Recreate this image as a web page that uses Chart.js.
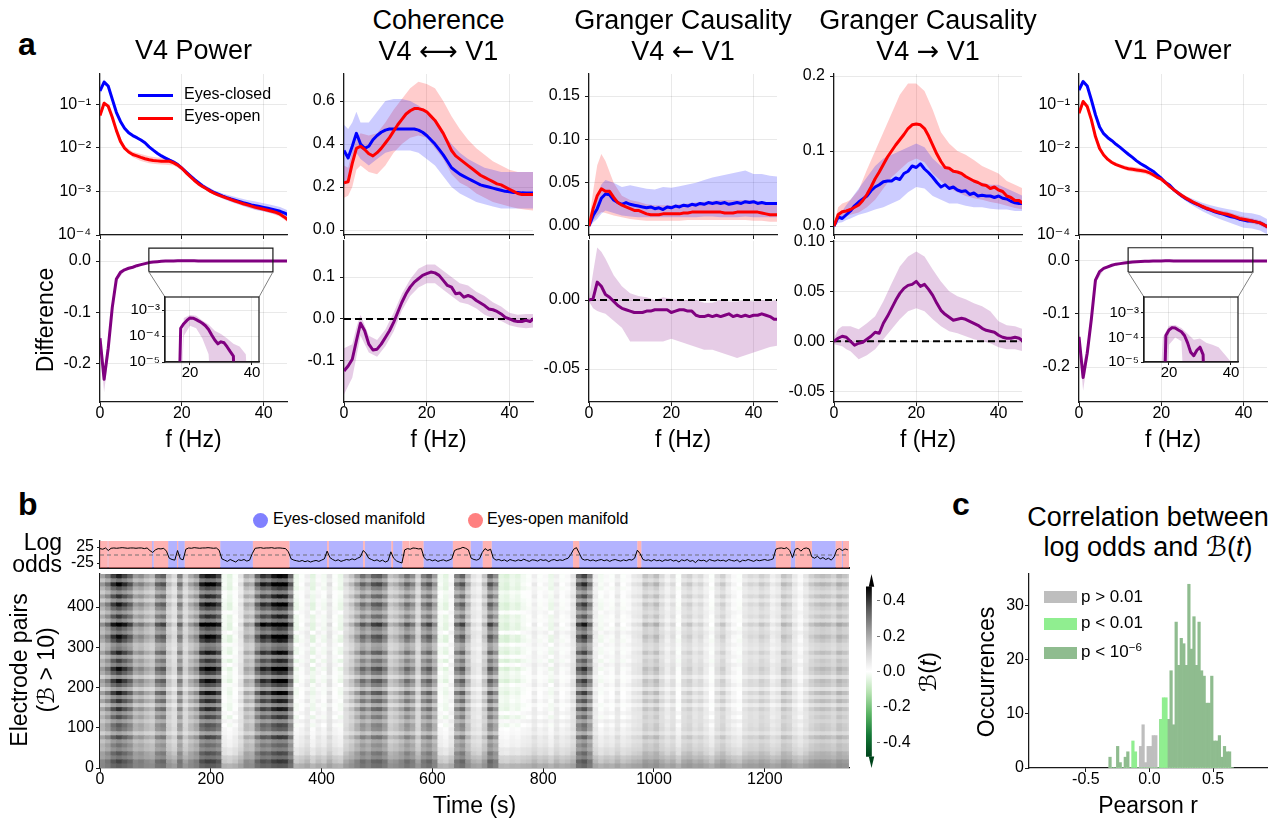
<!DOCTYPE html>
<html>
<head>
<meta charset="utf-8">
<script src="https://cdn.jsdelivr.net/npm/chart.js@4.4.1/dist/chart.umd.min.js"></script>
<style>
  body { margin: 0; background: #fff; font-family: 'Liberation Sans', Arial, 'DejaVu Sans', sans-serif; }
  #fig { position: relative; width: 1284px; height: 820px; overflow: hidden; background: #fff; }
  #fig canvas { position: absolute; }
  .t { position: absolute; white-space: nowrap; color: #000; line-height: 1; z-index: 5; }
  .mark { position: absolute; z-index: 5; }
  .arrow { font-family: 'DejaVu Sans', sans-serif; }
  sup { font-size: 0.68em; line-height: 0; vertical-align: 0.55em; }
</style>
</head>
<body>
<div id="fig"></div>
<script>
// ---------- spectra (1 Hz grid) ----------
const freqs = Array.from({ length: 47 }, (_, i) => i);
const bandFreqs = [0, 1, 2, 3, 4, 6, 8, 10, 12, 14, 16, 18, 20, 22, 24, 26, 28, 30, 32, 34, 36, 38, 40, 42, 44, 46];

// V4 power
const v4Closed = [0.2, 0.32, 0.26, 0.13, 0.065, 0.04, 0.028, 0.022, 0.019, 0.017,
  0.015, 0.013, 0.0105, 0.0088, 0.0075, 0.0065, 0.0058, 0.0052, 0.0047, 0.0041,
  0.0034, 0.0028, 0.0023, 0.0019, 0.0016, 0.00135, 0.00118, 0.00104, 0.00093, 0.00085,
  0.00078, 0.00072, 0.00067, 0.00063, 0.00059, 0.00055, 0.00052, 0.00049, 0.00047, 0.00045,
  0.00043, 0.00041, 0.00039, 0.00037, 0.00035, 0.00032, 0.00029];
const v4Open = [0.055, 0.105, 0.09, 0.05, 0.025, 0.014, 0.0098, 0.008, 0.007, 0.0065,
  0.006, 0.0056, 0.0053, 0.0051, 0.005, 0.0049, 0.0049, 0.0049, 0.0045, 0.004,
  0.0034, 0.0027, 0.0022, 0.0018, 0.0015, 0.0013, 0.00115, 0.001, 0.0009, 0.00082,
  0.00076, 0.0007, 0.00065, 0.0006, 0.00056, 0.00052, 0.00049, 0.00046, 0.00043, 0.00041,
  0.00039, 0.00037, 0.00035, 0.00033, 0.0003, 0.00026, 0.00022];
const v4ClosedSpread = [1.15, 1.15, 1.12, 1.1, 1.1, 1.08, 1.08, 1.08, 1.08, 1.08, 1.08, 1.1, 1.1,
  1.1, 1.1, 1.12, 1.12, 1.15, 1.18, 1.2, 1.22, 1.25, 1.25, 1.25, 1.25, 1.25];
const v4OpenSpread = [1.15, 1.12, 1.1, 1.1, 1.1, 1.1, 1.15, 1.2, 1.2, 1.2, 1.2, 1.15, 1.12,
  1.1, 1.1, 1.1, 1.1, 1.1, 1.1, 1.1, 1.12, 1.12, 1.12, 1.12, 1.15, 1.15];
const v4Diff = [-0.15, -0.23, -0.17, -0.09, -0.035, -0.022, -0.017, -0.014, -0.012, -0.009,
  -0.007, -0.005, -0.003, -0.002, -0.0012, -0.0006, -0.0001, 0.0002, 0.0003, 0.0004,
  0.0005, 0.00049, 0.00043, 0.00037, 0.00031, 0.00025, 0.00018, 0.00011, 0.00007, 0.00005,
  0.00006, 0.000055, 0.000038, 0.000025, 0.000017, -0.00001, -0.00002, -0.00003, -0.00002, -0.00003,
  -0.00004, -0.00003, -0.00004, -0.00005, -0.00004, -0.00005, -0.00006];
const v4DiffLo = [-0.16, -0.255, -0.19, -0.1, -0.04, -0.019, -0.014, -0.008, -0.004, -0.0016, -0.0008,
  0.0001, 0.00025, 0.0002, 0.00008, 0.00002, -0.00005, -0.00003, -0.0001, -0.0001, -0.0002,
  -0.0002, -0.0002, -0.0002, -0.0002, -0.0002];
const v4DiffHi = [-0.135, -0.21, -0.15, -0.075, -0.03, -0.015, -0.01, -0.006, -0.002, -0.0008, -0.0002,
  0.0005, 0.00065, 0.0006, 0.0004, 0.00028, 0.00016, 0.00012, 0.00008, 0.00005, 0.00004,
  0.00002, 0, 0, 0, 0];

// coherence
const cohClosed = [0.37, 0.335, 0.39, 0.45, 0.4, 0.38, 0.39, 0.42, 0.44, 0.455,
  0.465, 0.47, 0.47, 0.47, 0.47, 0.47, 0.47, 0.47, 0.465, 0.455,
  0.44, 0.42, 0.4, 0.375, 0.35, 0.32, 0.29, 0.275, 0.26, 0.25,
  0.24, 0.23, 0.22, 0.21, 0.205, 0.2, 0.195, 0.19, 0.185, 0.18,
  0.178, 0.175, 0.175, 0.173, 0.172, 0.172, 0.172];
const cohOpen = [0.22, 0.225, 0.31, 0.38, 0.39, 0.375, 0.355, 0.345, 0.36, 0.38,
  0.405, 0.43, 0.46, 0.49, 0.515, 0.54, 0.555, 0.565, 0.565, 0.56,
  0.55, 0.53, 0.51, 0.48, 0.45, 0.41, 0.37, 0.345, 0.33, 0.315,
  0.3, 0.285, 0.27, 0.255, 0.245, 0.235, 0.225, 0.215, 0.21, 0.2,
  0.19, 0.18, 0.17, 0.165, 0.165, 0.165, 0.165];
const cohClosedLo = [0.2, 0.25, 0.3, 0.36, 0.33, 0.3, 0.33, 0.36, 0.37, 0.37, 0.37, 0.36, 0.33,
  0.3, 0.25, 0.2, 0.17, 0.15, 0.13, 0.12, 0.11, 0.1, 0.1, 0.1, 0.1, 0.1];
const cohClosedHi = [0.49, 0.47, 0.5, 0.55, 0.5, 0.5, 0.55, 0.6, 0.61, 0.61, 0.6, 0.58, 0.55,
  0.5, 0.45, 0.4, 0.36, 0.33, 0.31, 0.29, 0.28, 0.27, 0.27, 0.27, 0.27, 0.27];
const cohOpenLo = [0.15, 0.16, 0.2, 0.28, 0.3, 0.27, 0.26, 0.3, 0.36, 0.4, 0.43, 0.44, 0.43,
  0.38, 0.33, 0.26, 0.22, 0.2, 0.17, 0.15, 0.13, 0.12, 0.11, 0.1, 0.095, 0.09];
const cohOpenHi = [0.3, 0.29, 0.37, 0.42, 0.45, 0.44, 0.45, 0.5, 0.56, 0.61, 0.66, 0.69, 0.68,
  0.66, 0.6, 0.53, 0.47, 0.42, 0.38, 0.35, 0.32, 0.3, 0.28, 0.27, 0.27, 0.27];
const cohDiff = [-0.124, -0.112, -0.096, -0.052, -0.01, -0.028, -0.06, -0.074, -0.072, -0.06,
  -0.044, -0.028, -0.008, 0.016, 0.04, 0.06, 0.076, 0.088, 0.096, 0.104,
  0.108, 0.112, 0.11, 0.104, 0.092, 0.08, 0.076, 0.06, 0.062, 0.052,
  0.056, 0.052, 0.044, 0.038, 0.032, 0.024, 0.022, 0.018, 0.012, 0.004,
  0.0, -0.004, -0.006, -0.006, -0.003, -0.006, 0.002];
const cohDiffLo = [-0.18, -0.16, -0.14, -0.09, -0.04, -0.08, -0.09, -0.065, -0.03, 0.02, 0.055, 0.075,
  0.085, 0.085, 0.07, 0.055, 0.04, 0.035, 0.025, 0.01, 0.002, -0.005, -0.015, -0.02, -0.022, -0.02];
const cohDiffHi = [-0.07, -0.065, -0.06, -0.02, 0.01, -0.04, -0.05, -0.025, 0.015, 0.06, 0.095, 0.12,
  0.13, 0.13, 0.115, 0.1, 0.085, 0.08, 0.065, 0.055, 0.04, 0.03, 0.015, 0.01, 0.012, 0.012];

// Granger causality V1 -> V4
const gcInClosed = [0, 0.012, 0.02, 0.032, 0.037, 0.036, 0.03, 0.027, 0.025, 0.027,
  0.025, 0.024, 0.023, 0.022, 0.021, 0.022, 0.02, 0.021, 0.019, 0.022,
  0.021, 0.023, 0.022, 0.024, 0.023, 0.025, 0.024, 0.026, 0.025, 0.027,
  0.026, 0.027, 0.026, 0.027, 0.025, 0.026, 0.027, 0.026, 0.028, 0.027,
  0.028, 0.026, 0.027, 0.026, 0.026, 0.026, 0.026];
const gcInOpen = [0, 0.02, 0.035, 0.043, 0.04, 0.04, 0.033, 0.027, 0.024, 0.022,
  0.02, 0.018, 0.018, 0.016, 0.014, 0.013, 0.013, 0.013, 0.014, 0.014,
  0.014, 0.014, 0.014, 0.015, 0.015, 0.016, 0.016, 0.016, 0.016, 0.016,
  0.016, 0.016, 0.016, 0.015, 0.015, 0.015, 0.016, 0.016, 0.016, 0.016,
  0.016, 0.016, 0.015, 0.014, 0.013, 0.013, 0.013];
const gcInClosedLo = [-0.002, 0.004, 0.008, 0.014, 0.018, 0.015, 0.012, 0.011, 0.01, 0.01, 0.01, 0.01, 0.01,
  0.01, 0.01, 0.01, 0.011, 0.011, 0.01, 0.01, 0.01, 0.011, 0.01, 0.01, 0.01, 0.01];
const gcInClosedHi = [0.004, 0.022, 0.035, 0.048, 0.053, 0.05, 0.045, 0.047, 0.045, 0.043, 0.042, 0.045, 0.044,
  0.046, 0.048, 0.05, 0.053, 0.056, 0.058, 0.06, 0.062, 0.064, 0.06, 0.06, 0.058, 0.057];
const gcInOpenLo = [-0.002, 0.006, 0.012, 0.016, 0.015, 0.012, 0.01, 0.008, 0.007, 0.006, 0.006, 0.006, 0.006,
  0.006, 0.007, 0.007, 0.007, 0.007, 0.007, 0.007, 0.007, 0.007, 0.006, 0.006, 0.005, 0.005];
const gcInOpenHi = [0.004, 0.04, 0.07, 0.083, 0.075, 0.05, 0.035, 0.03, 0.028, 0.025, 0.024, 0.024, 0.024,
  0.025, 0.026, 0.027, 0.028, 0.029, 0.03, 0.03, 0.03, 0.03, 0.03, 0.028, 0.026, 0.025];
const gcInDiff = [0, 0.001, 0.013, 0.01, 0.004, 0.002, -0.001, -0.004, -0.006, -0.007,
  -0.008, -0.009, -0.009, -0.009, -0.008, -0.008, -0.007, -0.007, -0.007, -0.007,
  -0.009, -0.008, -0.007, -0.007, -0.008, -0.008, -0.011, -0.012, -0.012, -0.011,
  -0.012, -0.011, -0.012, -0.011, -0.01, -0.012, -0.011, -0.012, -0.011, -0.012,
  -0.011, -0.011, -0.01, -0.011, -0.012, -0.014, -0.014];
const gcInDiffLo = [-0.001, -0.006, -0.008, -0.009, -0.01, -0.015, -0.02, -0.03, -0.03, -0.03, -0.03, -0.03,
  -0.028, -0.03, -0.032, -0.034, -0.036, -0.036, -0.038, -0.04, -0.042, -0.04, -0.038, -0.036, -0.034, -0.033];
const gcInDiffHi = [0.001, 0.02, 0.038, 0.035, 0.03, 0.018, 0.01, 0.005, 0.003, 0.002, 0.0, 0.002,
  0.001, 0.0, 0.0, 0.0, -0.002, -0.002, 0.0, -0.001, -0.001, 0.0, -0.001, 0.0, -0.001, 0.0];

// Granger causality V4 -> V1
const gcOutClosed = [0, 0.012, 0.01, 0.015, 0.02, 0.027, 0.032, 0.036, 0.04, 0.047,
  0.052, 0.055, 0.059, 0.06, 0.06, 0.064, 0.062, 0.07, 0.073, 0.08,
  0.078, 0.083, 0.076, 0.071, 0.065, 0.058, 0.052, 0.055, 0.05, 0.052,
  0.048, 0.046, 0.047, 0.042, 0.044, 0.04, 0.041, 0.04, 0.04, 0.038,
  0.04, 0.037, 0.036, 0.033, 0.031, 0.03, 0.03];
const gcOutOpen = [0, 0.015, 0.019, 0.02, 0.022, 0.025, 0.028, 0.034, 0.042, 0.052,
  0.063, 0.072, 0.082, 0.092, 0.1, 0.108, 0.115, 0.122, 0.13, 0.135,
  0.136, 0.135, 0.13, 0.12, 0.108, 0.096, 0.086, 0.078, 0.077, 0.073,
  0.072, 0.07, 0.066, 0.063, 0.06, 0.058, 0.055, 0.054, 0.05, 0.052,
  0.048, 0.046, 0.04, 0.038, 0.034, 0.034, 0.03];
const gcOutClosedLo = [-0.002, 0.004, 0.005, 0.008, 0.01, 0.015, 0.018, 0.022, 0.025, 0.03, 0.035, 0.045,
  0.052, 0.05, 0.04, 0.035, 0.03, 0.03, 0.027, 0.025, 0.025, 0.023, 0.022, 0.022, 0.02, 0.02];
const gcOutClosedHi = [0.002, 0.018, 0.02, 0.028, 0.035, 0.05, 0.065, 0.08, 0.09, 0.095, 0.1, 0.105,
  0.11, 0.105, 0.09, 0.08, 0.075, 0.07, 0.065, 0.06, 0.058, 0.055, 0.055, 0.05, 0.045, 0.04];
const gcOutOpenLo = [-0.002, 0.008, 0.012, 0.013, 0.015, 0.018, 0.025, 0.035, 0.05, 0.065, 0.075, 0.085,
  0.09, 0.085, 0.07, 0.06, 0.05, 0.045, 0.04, 0.037, 0.035, 0.032, 0.03, 0.027, 0.024, 0.022];
const gcOutOpenHi = [0.002, 0.025, 0.03, 0.032, 0.035, 0.048, 0.075, 0.1, 0.125, 0.15, 0.175, 0.19,
  0.19, 0.18, 0.155, 0.125, 0.11, 0.1, 0.095, 0.088, 0.08, 0.075, 0.07, 0.06, 0.055, 0.05];
const gcOutDiff = [0, 0.003, 0.005, 0.004, 0.0, -0.004, -0.002, -0.001, 0.002, 0.005,
  0.009, 0.008, 0.018, 0.025, 0.033, 0.041, 0.048, 0.053, 0.056, 0.057,
  0.06, 0.055, 0.057, 0.052, 0.046, 0.038, 0.031, 0.027, 0.024, 0.021,
  0.022, 0.023, 0.022, 0.02, 0.018, 0.016, 0.013, 0.011, 0.01, 0.009,
  0.006, 0.004, 0.003, 0.003, 0.004, 0.003, 0.0];
const gcOutDiffLo = [-0.003, -0.004, -0.005, -0.008, -0.01, -0.018, -0.014, -0.008, 0.002, 0.012, 0.022, 0.03,
  0.033, 0.03, 0.022, 0.015, 0.01, 0.008, 0.005, 0.002, 0.0, -0.002, -0.006, -0.008, -0.008, -0.01];
const gcOutDiffHi = [0.003, 0.012, 0.015, 0.015, 0.015, 0.012, 0.018, 0.025, 0.04, 0.058, 0.075, 0.085,
  0.09, 0.085, 0.072, 0.06, 0.05, 0.045, 0.042, 0.038, 0.035, 0.03, 0.02, 0.016, 0.015, 0.012];

// V1 power
const v1Closed = [0.21, 0.33, 0.26, 0.126, 0.057, 0.03, 0.021, 0.017, 0.0145, 0.012,
  0.0102, 0.0085, 0.0071, 0.006, 0.005, 0.0043, 0.0038, 0.0033, 0.0029, 0.0024,
  0.002, 0.0016, 0.0014, 0.0011, 0.00093, 0.00078, 0.00068, 0.0006, 0.00054, 0.00049,
  0.00044, 0.0004, 0.00037, 0.00034, 0.00032, 0.0003, 0.00028, 0.00026, 0.00025, 0.00023,
  0.00022, 0.00021, 0.00021, 0.0002, 0.00019, 0.00017, 0.00015];
const v1Open = [0.062, 0.115, 0.088, 0.044, 0.018, 0.0096, 0.0068, 0.0054, 0.0046, 0.0041,
  0.0038, 0.0035, 0.0033, 0.0032, 0.0031, 0.003, 0.0029, 0.0027, 0.0024, 0.0021,
  0.0019, 0.0016, 0.0013, 0.0011, 0.00093, 0.0008, 0.0007, 0.00062, 0.00055, 0.0005,
  0.00045, 0.00041, 0.00038, 0.00035, 0.00033, 0.00031, 0.0003, 0.00028, 0.00026, 0.00024,
  0.00023, 0.00022, 0.00021, 0.0002, 0.00019, 0.00017, 0.00015];
const v1ClosedSpread = [1.12, 1.12, 1.1, 1.1, 1.1, 1.08, 1.08, 1.08, 1.08, 1.08, 1.08, 1.1, 1.1,
  1.1, 1.12, 1.15, 1.2, 1.25, 1.3, 1.35, 1.4, 1.45, 1.5, 1.5, 1.5, 1.5];
const v1OpenSpread = [1.12, 1.12, 1.1, 1.1, 1.1, 1.1, 1.1, 1.1, 1.12, 1.15, 1.15, 1.12, 1.1,
  1.1, 1.1, 1.1, 1.1, 1.12, 1.12, 1.12, 1.15, 1.15, 1.15, 1.15, 1.15, 1.15];
const v1Diff = [-0.143, -0.22, -0.174, -0.11, -0.036, -0.02, -0.014, -0.011, -0.008, -0.006,
  -0.005, -0.004, -0.003, -0.002, -0.0015, -0.001, -0.0006, -0.0003, -0.0001, 0.00012,
  0.0002, 0.00025, 0.00024, 0.0002, 0.00017, 0.00012, 0.00006, 0.000025, 0.000018, 0.00003,
  0.00004, 0.00002, -0.00001, -0.00002, -0.00001, -0.00002, -0.00003, -0.00002, -0.00003, -0.00004,
  -0.00003, -0.00004, -0.00005, -0.00004, -0.00005, -0.00006, -0.00006];
const v1DiffLo = [-0.155, -0.245, -0.19, -0.125, -0.042, -0.017, -0.01, -0.006, -0.0035, -0.002, -0.0009,
  -0.0004, 0.00005, 0.0001, 0.00007, -0.00001, -0.00002, 0.00001, -0.00004, -0.00004, -0.00005,
  -0.00005, -0.00006, -0.00007, -0.00007, -0.00008];
const v1DiffHi = [-0.13, -0.195, -0.158, -0.095, -0.03, -0.011, -0.006, -0.004, -0.0025, -0.001, -0.0003,
  0.0001, 0.0003, 0.00032, 0.00024, 0.00014, 0.00008, 0.00009, 0.00006, 0.00005, 0.00004,
  0.00002, 0.00001, 0, -0.00001, -0.00002];

// ---------- manifold log odds (5 s steps) ----------
const oddsStep = 5;
const logOdds = [
  20, 18, 22, 14, 21, 22, 21, 22, 23, 22,
  21, 22, 22, 21, 22, 22, 20, 22, 14, 8,
  16, 20, 19, 21, 12, -10, -14, -16, 14, -12,
  -15, 18, 22, 21, 23, 22, 21, 22, 22, 23,
  22, 21, 22, 15, -12, -16, -20, -14, -18, -22,
  -15, -17, -14, -19, -16, 5, 21, 22, 23, 21,
  22, 22, 23, 21, 22, 22, 21, 20, 10, -12,
  -16, -18, -20, -17, -21, -18, -22, -19, -17, -20,
  -16, -12, 12, -8, -14, -18, -15, -20, -17, -14,
  -16, -12, -15, -10, -6, 14, 6, -10, -14, -18,
  -15, -20, -16, -22, -18, 10, -10, -18, -22, -25,
  16, 20, 18, 22, 21, 19, 20, -8, -16, -14,
  -18, -15, -20, -17, -15, -19, -16, -12, 14, 18,
  20, 24, 21, 16, -10, -14, -16, -12, 8, 20,
  14, 18, -10, -16, -14, -18, -15, -20, -14, -17,
  -19, -15, -18, -13, -17, -20, -15, -16, -19, -14,
  -17, -15, -21, -16, -14, -18, -15, -17, -13, -10,
  2, 18, 23, 6, -12, -16, -14, -18, -15, -19,
  -16, -14, -18, -15, -20, -16, -14, -17, -19, -15,
  -18, -14, -16, -10, 15, 4, -14, -17, -15, -19,
  -14, -18, -16, -20, -15, -17, -14, -19, -16, -22,
  -15, -18, -14, -20, -17, -24, -15, -18, -16, -21,
  -14, -17, -19, -15, -18, -16, -20, -14, -17, -19,
  -15, -22, -16, -18, -14, -17, -20, -15, -18, -16,
  -14, -17, -15, -12, 18, 21, 22, 20, 23, 14,
  -8, 18, 21, 12, 20, 22, 19, -6, -10, -4,
  -12, -8, -14, -10, -16, -6, 16, 20, 14, 19,
  16];
// manifold assignment: segment start (s) and state
const segStart = [0, 14, 15, 94, 97, 123, 139, 141, 153, 217, 276, 342, 410, 413, 475, 478, 526, 529,
  546, 558, 559, 584, 637, 669, 691, 707, 854, 865, 970, 977, 1220, 1247, 1255, 1285, 1328, 1339, 1341];
const segState = ['open', 'closed', 'open', 'closed', 'open', 'closed', 'open', 'closed', 'open', 'closed',
  'open', 'closed', 'open', 'closed', 'open', 'closed', 'open', 'closed', 'open', 'closed', 'open',
  'closed', 'open', 'closed', 'open', 'closed', 'open', 'closed', 'open', 'closed', 'open', 'closed',
  'open', 'closed', 'open', 'closed', 'open'];
const T_MAX = 1352;

// ---------- electrode-pair coefficients B(t) ----------
const heatBinSec = 10, heatRowStep = 10;
const colLevel = [
  0.15, 0.2, 0.28, 0.32, 0.28, 0.24, 0.16, 0.18, 0.14, 0.12,
  0.22, 0.24, 0.1, 0.06, 0.2, 0.08, 0.14, 0.18, 0.3, 0.33,
  0.32, 0.28, -0.03, -0.05, -0.02, 0.04, 0.14, 0.12, 0.24, 0.3,
  0.28, 0.33, 0.35, 0.34, 0.24, -0.04, -0.02, 0.02, -0.05, 0.0,
  -0.03, 0.04, -0.02, -0.04, 0.06, 0.1, 0.16, 0.22, 0.18, 0.24,
  0.25, 0.2, 0.1, 0.12, 0.16, 0.22, 0.18, 0.08, 0.2, 0.24,
  0.16, -0.03, -0.05, 0.0, 0.2, 0.24, 0.12, 0.04, 0.02, 0.1,
  0.24, 0.18, -0.05, -0.06, -0.04, -0.05, -0.03, -0.02, 0.02, -0.02,
  0.0, -0.04, 0.02, -0.02, 0.0, 0.04, 0.24, 0.28, 0.2, 0.02,
  -0.03, 0.0, -0.02, 0.03, -0.02, 0.0, 0.03, 0.04, 0.1, 0.08,
  0.11, 0.06, 0.02, 0.05, -0.02, 0.06, 0.08, 0.04, 0.06, 0.02,
  -0.02, 0.05, 0.08, 0.03, 0.0, -0.02, 0.04, 0.06, 0.05, 0.08,
  0.06, 0.02, 0.04, 0.1, 0.08, 0.03, 0.0, 0.04, 0.08, 0.1,
  0.11, 0.1, 0.08, 0.12, 0.1, 0.08];
const rowGain = [0.45, 0.7, 0.5, 0.8, 0.55, 0.75, 0.6, 0.95, 0.55, 0.85,
  1.0, 0.6, 1.1, 0.7, 1.2, 0.75, 1.15, 0.8, 1.3, 0.7,
  1.0, 1.35, 0.75, 1.1, 1.4, 0.8, 1.2, 0.7, 1.3, 0.9,
  0.75, 1.25, 1.4, 0.8, 1.1, 1.5, 0.85, 1.2, 0.7, 1.1,
  1.35, 0.8, 1.2, 0.75, 1.1, 1.4, 0.9, 1.3, 1.5];
const rowBase = [0.2, 0.16, 0.14, 0.1, 0.09, 0.07, 0.06, 0.07, 0.04, 0.05,
  0.03, 0.05, 0.02, 0.04, 0.03, 0.01, 0.04, 0.02, 0.03, 0.01,
  0.04, 0.02, 0.01, 0.03, 0.02, 0.04, 0.01, 0.03, 0.02, 0.01,
  0.03, 0.01, 0.02, 0.04, 0.01, 0.03, 0.01, 0.02, 0.03, 0.01,
  0.02, 0.01, 0.03, 0.02, 0.01, 0.03, 0.01, 0.02, 0.01];

// ---------- correlation histogram ----------
const HIST_FIRST = -0.31, HIST_BIN = 0.02;
const histHigh = [2, 0, 0, 4, 1, 0, 2, 3, 0, 0, 0, 0, 0, 0, 0, 0, 0, 0, 0, 0,
  9, 9, 9, 9, 18, 8, 27, 19, 24, 23, 19, 34, 22, 28, 19, 27, 18, 17, 12, 12,
  17, 5, 5, 6, 2, 4, 3, 3, 0];
const histMid = [0, 0, 0, 0, 0, 0, 0, 0, 0, 5, 3, 0, 0, 0, 0, 0, 0, 0, 0, 0,
  9, 13, 13, 0, 0, 0, 0, 0, 0, 0, 0, 0, 0, 0, 0, 0, 0, 0, 0, 0,
  0, 0, 0, 0, 0, 0, 0, 0, 0];
const histLow = [0, 0, 0, 0, 0, 0, 0, 0, 0, 0, 0, 0, 4, 8, 1, 4, 4, 6, 6, 0,
  0, 0, 0, 0, 0, 0, 0, 0, 0, 0, 0, 0, 0, 0, 0, 0, 0, 0, 0, 0,
  0, 0, 0, 0, 0, 0, 0, 0, 0];

// ---------- styling ----------
const INK = '#1a1a1a';
const GRID = 'rgba(0,0,0,0.085)';
const BLUE = '#0000ff', RED = '#ff0000', PURPLE = '#800080';
const BLUE_A = 'rgba(0,0,255,0.2)', RED_A = 'rgba(255,0,0,0.2)', PURPLE_A = 'rgba(128,0,128,0.2)';
const cmapStops = [
  [-0.48, [0, 68, 27]], [-0.36, [20, 120, 55]], [-0.24, [90, 180, 100]], [-0.12, [180, 225, 175]],
  [0, [255, 255, 255]], [0.12, [210, 210, 210]], [0.24, [150, 150, 150]], [0.36, [85, 85, 85]],
  [0.48, [0, 0, 0]]];

Chart.defaults.font.family = "'Liberation Sans', Arial, 'DejaVu Sans', sans-serif";
Chart.defaults.font.size = 16;
Chart.defaults.color = '#000';
Chart.defaults.animation = false;
Chart.defaults.responsive = false;
Chart.defaults.events = [];
Chart.defaults.plugins.legend.display = false;
Chart.defaults.plugins.tooltip.enabled = false;

const fig = document.getElementById('fig');
const SUP = { '-': '\u207B', '0': '\u2070', '1': '\u00B9', '2': '\u00B2', '3': '\u00B3', '4': '\u2074', '5': '\u2075', '6': '\u2076' };
const pow10 = v => '10' + String(Math.round(Math.log10(v))).split('').map(c => SUP[c]).join('');
const fix = n => v => v.toFixed(n);

function cmap(v) {
  const s = cmapStops;
  if (v <= s[0][0]) return `rgb(${s[0][1].join(',')})`;
  for (let i = 1; i < s.length; i++) {
    if (v <= s[i][0]) {
      const f = (v - s[i - 1][0]) / (s[i][0] - s[i - 1][0]);
      const c = s[i][1].map((ch, j) => Math.round(s[i - 1][1][j] + f * (ch - s[i - 1][1][j])));
      return `rgb(${c.join(',')})`;
    }
  }
  return `rgb(${s[s.length - 1][1].join(',')})`;
}

function makeCanvas(box, m, z) {
  const c = document.createElement('canvas');
  const w = box.r - box.l + m.l + m.r, h = box.b - box.t + m.t + m.b;
  c.width = w; c.height = h;
  c.style.left = (box.l - m.l) + 'px';
  c.style.top = (box.t - m.t) + 'px';
  c.style.width = w + 'px'; c.style.height = h + 'px';
  if (z) c.style.zIndex = z;
  fig.appendChild(c);
  return c;
}

function axis(o) {
  const horiz = o.pos === 'bottom';
  return {
    type: o.type || 'linear', position: o.pos, min: o.min, max: o.max, offset: false,
    afterBuildTicks: s => { s.ticks = (o.ticks || []).map(v => ({ value: v })); },
    afterFit: s => {
      if (horiz) { s.height = o.size; s.paddingLeft = 0; s.paddingRight = 0; }
      else { s.width = o.size; s.paddingTop = 0; s.paddingBottom = 0; }
    },
    grid: { offset: false, drawOnChartArea: !!o.grid, color: GRID, lineWidth: 1, drawTicks: true,
      tickLength: o.tickLength ?? 4, tickColor: o.tickColor || INK, tickWidth: 1 },
    border: { display: o.border !== false, color: INK, width: o.borderWidth || 1.25 },
    ticks: { display: o.labels !== false, padding: o.pad ?? 4, autoSkip: false, maxRotation: 0, minRotation: 0,
      font: { size: o.font || 16, lineHeight: 1 }, callback: o.fmt || (v => String(v)) },
  };
}

function txt(s, x, y, size, o = {}) {
  const d = document.createElement('div');
  d.className = 't';
  d.innerHTML = s;
  d.style.fontSize = size + 'px';
  if (o.bold) d.style.fontWeight = 'bold';
  if (o.rot) {
    // x is the baseline position of the rotated text, y its centre
    d.style.left = (x - 0.3465 * size) + 'px';
    d.style.top = y + 'px';
    d.style.transform = 'translate(-50%,-50%) rotate(-90deg)';
  } else {
    d.style.left = x + 'px';
    d.style.top = (y - 0.8465 * size) + 'px';
    const a = o.anchor || 'center';
    if (a === 'center') d.style.transform = 'translateX(-50%)';
    if (a === 'right') d.style.transform = 'translateX(-100%)';
  }
  fig.appendChild(d);
}

function swatch(l, t, w, h, color, round) {
  const d = document.createElement('div');
  d.className = 'mark';
  Object.assign(d.style, { left: l + 'px', top: t + 'px', width: w + 'px', height: h + 'px', background: color });
  if (round) d.style.borderRadius = '50%';
  fig.appendChild(d);
}

// ---------- dataset helpers ----------
const pts = ys => freqs.map((f, i) => ({ x: f, y: ys[i] }));
const bpts = ys => bandFreqs.map((f, k) => ({ x: f, y: ys[k] }));
function curve(ys, color, order) {
  return { type: 'line', data: pts(ys), borderColor: color, borderWidth: 3, pointRadius: 0,
    fill: false, order, borderJoinStyle: 'round' };
}
function shade(lo, hi, color) {
  return [
    { type: 'line', data: bpts(lo), borderWidth: 0, pointRadius: 0, fill: false, order: 5 },
    { type: 'line', data: bpts(hi), borderWidth: 0, pointRadius: 0, fill: '-1', backgroundColor: color, order: 5 },
  ];
}
function ratioShade(mean, spread, color) {
  return shade(bandFreqs.map((f, k) => mean[f] / spread[k]), bandFreqs.map((f, k) => mean[f] * spread[k]), color);
}
const X_MAX = 45.7;
function zeroLine() {
  return { type: 'line', data: [{ x: 0, y: 0 }, { x: X_MAX, y: 0 }], borderColor: '#000', borderWidth: 2,
    borderDash: [7, 4], pointRadius: 0, fill: false, order: 2 };
}

// ---------- panel a ----------
const COL_X = [[100, 287], [344, 533], [589, 777], [834, 1022], [1079, 1267]];
const M_TOP = { l: 62, t: 12, r: 10, b: 10 };
const M_BOT = { l: 62, t: 12, r: 10, b: 26 };
const INSET_X = [11.94, 42.26];
const ZOOM_Y = [-0.021, 0.025];
const M_INSET = { l: 46, t: 6, r: 6, b: 22 };
const CLIP_FLOOR = 1e-9;

function specChart(col, top, m, yOpt, datasets, plugins, z) {
  const box = { l: COL_X[col][0], r: COL_X[col][1], t: top ? 74 : 241, b: top ? 235 : 402 };
  return new Chart(makeCanvas(box, m, z), {
    type: 'line',
    data: { datasets },
    options: {
      layout: { padding: { left: 0, top: m.t, right: m.r, bottom: 0 } },
      scales: {
        x: axis({ pos: 'bottom', min: 0, max: X_MAX, ticks: [0, 20, 40], size: m.b, labels: !top, grid: true, pad: 0 }),
        y: axis(Object.assign({ pos: 'left', size: m.l, grid: true, pad: 5 }, yOpt)),
      },
    },
    plugins: plugins || [],
  });
}

const whiteArea = {
  id: 'whiteArea',
  beforeDraw(chart) {
    const a = chart.chartArea;
    chart.ctx.save(); chart.ctx.fillStyle = '#fff';
    chart.ctx.fillRect(a.left, a.top, a.right - a.left, a.bottom - a.top);
    chart.ctx.restore();
  },
};
const frame = {
  id: 'frame',
  afterDraw(chart) {
    const a = chart.chartArea, ctx = chart.ctx;
    ctx.save(); ctx.strokeStyle = INK; ctx.lineWidth = 1.2;
    ctx.strokeRect(a.left, a.top, a.right - a.left, a.bottom - a.top);
    ctx.restore();
  },
};

function insetChart(box, diff, lo, hi, yMax) {
  const floor = v => (v > 0 ? v : CLIP_FLOOR);
  return new Chart(makeCanvas(box, M_INSET, 3), {
    type: 'line',
    data: { datasets: [curve(diff.map(floor), PURPLE, 0), ...shade(lo.map(floor), hi.map(floor), PURPLE_A)] },
    options: {
      layout: { padding: { left: 0, top: M_INSET.t, right: M_INSET.r, bottom: 0 } },
      scales: {
        x: axis({ pos: 'bottom', min: INSET_X[0], max: INSET_X[1], ticks: [20, 40], size: M_INSET.b, grid: true, pad: 0, font: 15, tickLength: 3 }),
        y: axis({ pos: 'left', type: 'logarithmic', min: 1e-5, max: yMax, ticks: [1e-5, 1e-4, 1e-3], fmt: pow10,
          size: M_INSET.l, grid: true, pad: 2, font: 15, tickLength: 3 }),
      },
    },
    plugins: [whiteArea, frame],
  });
}

function zoomBox() {
  return { type: 'line', borderColor: INK, borderWidth: 1.2, pointRadius: 0, fill: false, order: -1,
    data: [{ x: INSET_X[0], y: ZOOM_Y[0] }, { x: INSET_X[0], y: ZOOM_Y[1] }, { x: INSET_X[1], y: ZOOM_Y[1] },
      { x: INSET_X[1], y: ZOOM_Y[0] }, { x: INSET_X[0], y: ZOOM_Y[0] }] };
}
function zoomLinks(inset) {
  return {
    id: 'zoomLinks',
    afterDatasetsDraw(chart) {
      const { ctx } = chart, x = chart.scales.x, y = chart.scales.y, a = inset.chartArea;
      const dx = parseFloat(inset.canvas.style.left) - parseFloat(chart.canvas.style.left);
      const dy = parseFloat(inset.canvas.style.top) - parseFloat(chart.canvas.style.top);
      ctx.save(); ctx.strokeStyle = '#808080'; ctx.lineWidth = 1;
      ctx.beginPath();
      ctx.moveTo(x.getPixelForValue(INSET_X[0]), y.getPixelForValue(ZOOM_Y[0]));
      ctx.lineTo(a.left + dx, a.top + dy);
      ctx.moveTo(x.getPixelForValue(INSET_X[1]), y.getPixelForValue(ZOOM_Y[0]));
      ctx.lineTo(a.right + dx, a.top + dy);
      ctx.stroke(); ctx.restore();
    },
  };
}

const logPower = { type: 'logarithmic', min: 1e-4, max: 0.49, ticks: [1e-4, 1e-3, 1e-2, 1e-1], fmt: pow10 };

// V4 power
specChart(0, true, M_TOP, logPower, [curve(v4Open, RED, 0), curve(v4Closed, BLUE, 1),
  ...ratioShade(v4Closed, v4ClosedSpread, BLUE_A), ...ratioShade(v4Open, v4OpenSpread, RED_A)]);
const v4Inset = insetChart({ l: 165, t: 297, r: 259, b: 362 }, v4Diff, v4DiffLo, v4DiffHi, 3.2e-3);
specChart(0, false, M_BOT, { min: -0.274, max: 0.039, ticks: [-0.2, -0.1, 0], fmt: fix(1) },
  [curve(v4Diff, PURPLE, 0), ...shade(v4DiffLo, v4DiffHi, PURPLE_A), zoomBox()], [zoomLinks(v4Inset)]);

// coherence
specChart(1, true, M_TOP, { min: -0.023, max: 0.726, ticks: [0, 0.2, 0.4, 0.6], fmt: fix(1) },
  [curve(cohOpen, RED, 0), curve(cohClosed, BLUE, 1),
    ...shade(cohClosedLo, cohClosedHi, BLUE_A), ...shade(cohOpenLo, cohOpenHi, RED_A)]);
specChart(1, false, M_BOT, { min: -0.198, max: 0.186, ticks: [-0.1, 0, 0.1], fmt: fix(1) },
  [curve(cohDiff, PURPLE, 0), zeroLine(), ...shade(cohDiffLo, cohDiffHi, PURPLE_A)]);

// Granger V4 <- V1
specChart(2, true, M_TOP, { min: -0.0104, max: 0.1754, ticks: [0, 0.05, 0.1, 0.15], fmt: fix(2) },
  [curve(gcInOpen, RED, 0), curve(gcInClosed, BLUE, 1),
    ...shade(gcInClosedLo, gcInClosedHi, BLUE_A), ...shade(gcInOpenLo, gcInOpenHi, RED_A)]);
specChart(2, false, M_BOT, { min: -0.0739, max: 0.0428, ticks: [-0.05, 0], fmt: fix(2) },
  [curve(gcInDiff, PURPLE, 0), zeroLine(), ...shade(gcInDiffLo, gcInDiffHi, PURPLE_A)]);

// Granger V4 -> V1
specChart(3, true, M_TOP, { min: -0.012, max: 0.2027, ticks: [0, 0.1, 0.2], fmt: fix(1) },
  [curve(gcOutOpen, RED, 0), curve(gcOutClosed, BLUE, 1),
    ...shade(gcOutClosedLo, gcOutClosedHi, BLUE_A), ...shade(gcOutOpenLo, gcOutOpenHi, RED_A)]);
specChart(3, false, M_BOT, { min: -0.0609, max: 0.1005, ticks: [-0.05, 0, 0.05, 0.1], fmt: fix(2) },
  [curve(gcOutDiff, PURPLE, 0), zeroLine(), ...shade(gcOutDiffLo, gcOutDiffHi, PURPLE_A)]);

// V1 power
specChart(4, true, M_TOP, logPower, [curve(v1Open, RED, 0), curve(v1Closed, BLUE, 1),
  ...ratioShade(v1Closed, v1ClosedSpread, BLUE_A), ...ratioShade(v1Open, v1OpenSpread, RED_A)]);
const v1Inset = insetChart({ l: 1144, t: 297, r: 1238, b: 362 }, v1Diff, v1DiffLo, v1DiffHi, 4.4e-3);
specChart(4, false, M_BOT, { min: -0.266, max: 0.0377, ticks: [-0.2, -0.1, 0], fmt: fix(1) },
  [curve(v1Diff, PURPLE, 0), ...shade(v1DiffLo, v1DiffHi, PURPLE_A), zoomBox()], [zoomLinks(v1Inset)]);

// ---------- panel b: log odds strip ----------
const ODDS_MIN = -40.6, ODDS_MAX = 43.75;
function stateSteps(state) {
  return segStart.flatMap((s, i) => {
    const end = i + 1 < segStart.length ? segStart[i + 1] : T_MAX;
    const v = segState[i] === state ? ODDS_MAX : ODDS_MIN;
    return [{ x: s, y: v }, { x: end, y: v }];
  });
}
const M_ODDS = { l: 45, t: 6, r: 6, b: 4 };
new Chart(makeCanvas({ l: 100, t: 541, r: 849, b: 568 }, M_ODDS), {
  type: 'line',
  data: { datasets: [
    { data: logOdds.map((v, i) => ({ x: i * oddsStep, y: v })), borderColor: '#000', borderWidth: 1,
      pointRadius: 0, fill: false, order: 0 },
    { data: [{ x: 0, y: 0 }, { x: T_MAX, y: 0 }], borderColor: 'rgba(105,105,105,0.9)', borderWidth: 1.2,
      borderDash: [4, 3], pointRadius: 0, fill: false, order: 1 },
    { data: stateSteps('open'), borderWidth: 0, pointRadius: 0, fill: 'start',
      backgroundColor: 'rgba(255,128,128,0.6)', order: 3 },
    { data: stateSteps('closed'), borderWidth: 0, pointRadius: 0, fill: 'start',
      backgroundColor: 'rgba(128,128,255,0.6)', order: 3 },
  ] },
  options: {
    layout: { padding: { left: 0, top: M_ODDS.t, right: M_ODDS.r, bottom: 0 } },
    scales: {
      x: axis({ pos: 'bottom', min: 0, max: T_MAX, ticks: [], size: M_ODDS.b, borderWidth: 2 }),
      y: axis({ pos: 'left', min: ODDS_MIN, max: ODDS_MAX, ticks: [-25, 25], size: M_ODDS.l, pad: 3, tickLength: 3 }),
    },
  },
});

// ---------- panel b: heat map ----------
const heatSets = rowGain.map((g, k) => ({
  type: 'bar',
  data: colLevel.map((c, j) => ({ x: j * heatBinSec + heatBinSec / 2, y: [k * heatRowStep, (k + 1) * heatRowStep] })),
  backgroundColor: colLevel.map(c => cmap(rowBase[k] + c * g)),
  borderWidth: 0, grouped: false, barPercentage: 1, categoryPercentage: 1, inflateAmount: 0.5,
}));
const M_HEAT = { l: 50, t: 8, r: 8, b: 26 };
new Chart(makeCanvas({ l: 100, t: 574, r: 849, b: 768 }, M_HEAT), {
  type: 'bar',
  data: { datasets: heatSets },
  options: {
    layout: { padding: { left: 0, top: M_HEAT.t, right: M_HEAT.r, bottom: 0 } },
    scales: {
      x: axis({ pos: 'bottom', min: 0, max: T_MAX, ticks: [0, 200, 400, 600, 800, 1000, 1200], size: M_HEAT.b, pad: 0 }),
      y: axis({ pos: 'left', min: 0, max: 482, ticks: [0, 100, 200, 300, 400], size: M_HEAT.l, pad: 2 }),
    },
  },
});

// ---------- panel b: colour bar ----------
const CB_LIM = 0.48, CB_MIN = -0.545, CB_MAX = 0.552;
const M_CB = { l: 2, t: 4, r: 46, b: 4 };
new Chart(makeCanvas({ l: 866, t: 574, r: 877, b: 768 }, M_CB), {
  type: 'bar',
  data: { labels: [''], datasets: [
    { data: [[-CB_LIM, CB_LIM]], borderWidth: 0, barPercentage: 1, categoryPercentage: 1,
      backgroundColor: c => {
        const ch = c.chart;
        if (!ch.chartArea) return '#fff';
        const y = ch.scales.y;
        const g = ch.ctx.createLinearGradient(0, y.getPixelForValue(-CB_LIM), 0, y.getPixelForValue(CB_LIM));
        cmapStops.forEach(([v, rgb]) => g.addColorStop((v + CB_LIM) / (2 * CB_LIM), `rgb(${rgb.join(',')})`));
        return g;
      } },
    { type: 'line', xAxisID: 'xt', data: [{ x: 0, y: CB_LIM }, { x: 0.5, y: CB_MAX }, { x: 1, y: CB_LIM }],
      fill: 'shape', backgroundColor: cmap(CB_LIM), borderWidth: 0, pointRadius: 0 },
    { type: 'line', xAxisID: 'xt', data: [{ x: 0, y: -CB_LIM }, { x: 0.5, y: CB_MIN }, { x: 1, y: -CB_LIM }],
      fill: 'shape', backgroundColor: cmap(-CB_LIM), borderWidth: 0, pointRadius: 0 },
  ] },
  options: {
    layout: { padding: { left: M_CB.l, top: M_CB.t, right: 0, bottom: M_CB.b } },
    scales: {
      x: { type: 'category', display: false },
      xt: { type: 'linear', min: 0, max: 1, display: false },
      y: axis({ pos: 'right', min: CB_MIN, max: CB_MAX, ticks: [-0.4, -0.2, 0, 0.2, 0.4], fmt: fix(1),
        size: M_CB.r, pad: 3, tickLength: 3, tickColor: '#777', border: false }),
    },
  },
});

// ---------- panel c: histogram ----------
const histCenters = histHigh.map((_, k) => +(HIST_FIRST + k * HIST_BIN).toFixed(3));
const histSet = (counts, color, order) => ({
  type: 'bar', data: histCenters.map((x, k) => ({ x, y: counts[k] })), backgroundColor: color,
  borderWidth: 0, grouped: false, barPercentage: 1, categoryPercentage: 1, order,
});
const M_HIST = { l: 44, t: 8, r: 8, b: 26 };
new Chart(makeCanvas({ l: 1029, t: 574, r: 1267, b: 768 }, M_HIST), {
  type: 'bar',
  data: { datasets: [histSet(histMid, '#90ee90', 1), histSet(histLow, '#bebebe', 2), histSet(histHigh, '#8fbc8f', 3)] },
  options: {
    layout: { padding: { left: 0, top: M_HIST.t, right: M_HIST.r, bottom: 0 } },
    scales: {
      x: axis({ pos: 'bottom', min: -0.947, max: 0.924, ticks: [-0.5, 0, 0.5], fmt: fix(1), size: M_HIST.b, pad: 0 }),
      y: axis({ pos: 'left', min: 0, max: 35.9, ticks: [0, 10, 20, 30], size: M_HIST.l, pad: 1 }),
    },
  },
});

// ---------- text ----------
txt('a', 18, 55, 32, { anchor: 'left', bold: true });
txt('b', 18, 515, 32, { anchor: 'left', bold: true });
txt('c', 952, 515, 32, { anchor: 'left', bold: true });

txt('V4 Power', 193.5, 60, 27);
txt('Coherence', 438.5, 30, 27); txt('V4 <span class="arrow">\u27F7</span> V1', 438.5, 60, 27);
txt('Granger Causality', 683, 30, 27); txt('V4 <span class="arrow">\u2190</span> V1', 683, 60, 27);
txt('Granger Causality', 928, 30, 27); txt('V4 <span class="arrow">\u2192</span> V1', 928, 60, 27);
txt('V1 Power', 1173, 60, 27);
COL_X.forEach(([l, r]) => txt('f (Hz)', (l + r) / 2, 447, 23));
txt('Difference', 53, 320, 23, { rot: true });

swatch(138, 93.5, 35, 3, BLUE); txt('Eyes-closed', 184, 100, 16, { anchor: 'left' });
swatch(138, 116.5, 35, 3, RED); txt('Eyes-open', 184, 122, 16, { anchor: 'left' });

swatch(252.5, 512.5, 15, 15, 'rgb(128,128,255)', true); txt('Eyes-closed manifold', 273, 525, 16, { anchor: 'left' });
swatch(467.5, 512.5, 15, 15, 'rgb(255,128,128)', true); txt('Eyes-open manifold', 487, 525, 16, { anchor: 'left' });
txt('Log', 62, 550, 23, { anchor: 'right' });
txt('odds', 62, 572, 23, { anchor: 'right' });
txt('Electrode pairs', 27, 670, 23, { rot: true });
txt('(\u212C &gt; 10)', 53.5, 670, 23, { rot: true });
txt('Time (s)', 474.5, 813, 23);
txt('\u212C(<i>t</i>)', 936, 672, 23, { rot: true });

txt('Correlation between', 1148, 527, 27);
txt('log odds and \u212C(<i>t</i>)', 1148, 557, 27);
txt('Occurrences', 993.5, 672, 23, { rot: true });
txt('Pearson r', 1148, 813, 23);
swatch(1044, 591, 33, 12, '#bebebe'); txt('p &gt; 0.01', 1081, 602, 17, { anchor: 'left' });
swatch(1044, 618, 33, 12, '#90ee90'); txt('p &lt; 0.01', 1081, 628, 17, { anchor: 'left' });
swatch(1044, 647, 33, 12, '#8fbc8f'); txt('p &lt; 10<sup>\u22126</sup>', 1081, 657, 17, { anchor: 'left' });
</script>
</body>
</html>
